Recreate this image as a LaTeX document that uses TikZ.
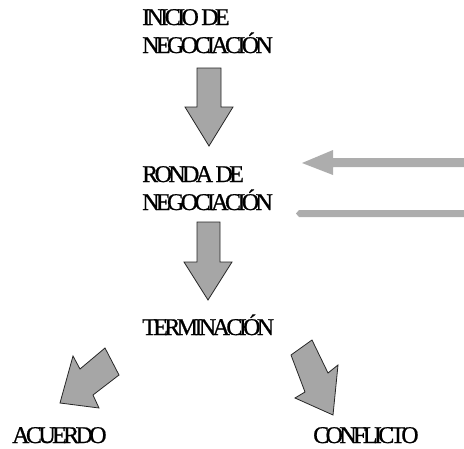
\documentclass[tikz,border=0pt]{standalone}
\usepackage{fontspec}
\setmainfont{Liberation Serif}[LetterSpace=-15,FakeBold=0.8]
\begin{document}
\begin{tikzpicture}[x=1pt,y=-1pt,
  label/.style={anchor=base west,inner sep=0pt,align=left,
    font=\fontsize{24}{28}\selectfont},
  blockarrow/.style={fill=black!35,draw=black!85,line width=0.8pt,line join=miter},
  flatarrow/.style={fill=black!32,draw=none}]
\useasboundingbox (0,0) rectangle (464,448);

% stage labels (a two-line label is placed by its last baseline)
\node[label] (inicio) at (142,53) {INICIO DE\\NEGOCIACIÓN};
\node[label] (ronda) at (142,210) {RONDA DE\\NEGOCIACIÓN};
\node[label] (term) at (142,335) {TERMINACIÓN};
\node[label] (acuerdo) at (12,443) {ACUERDO};
\node[label] (conflicto) at (313,443) {CONFLICTO};

% downward block arrows between stages
\draw[blockarrow] (197,68) -- (221,68) -- (221,107) -- (233,107) -- (209,146)
  -- (185,107) -- (197,107) -- cycle;
\draw[blockarrow] (197,222) -- (220,222) -- (220,262) -- (232,262) -- (208,300)
  -- (184,262) -- (197,262) -- cycle;

% incoming and outgoing flows of the negotiation round
\fill[flatarrow] (464,158) -- (333,158) -- (333,150) -- (302,163)
  -- (333,175) -- (333,167) -- (464,167) -- cycle;
\fill[flatarrow] (464,210) -- (299,210) -- (296,213.5) -- (299,217)
  -- (464,217) -- cycle;

% outcome arrows
\draw[blockarrow] (105,348) -- (119,375) -- (93,395) -- (99,408) -- (60,403)
  -- (73,356) -- (80,369) -- cycle;
\draw[blockarrow] (291,355) -- (312,340) -- (328,373) -- (338,365) -- (333,415)
  -- (295,398) -- (305,392) -- cycle;
\end{tikzpicture}
\end{document}
